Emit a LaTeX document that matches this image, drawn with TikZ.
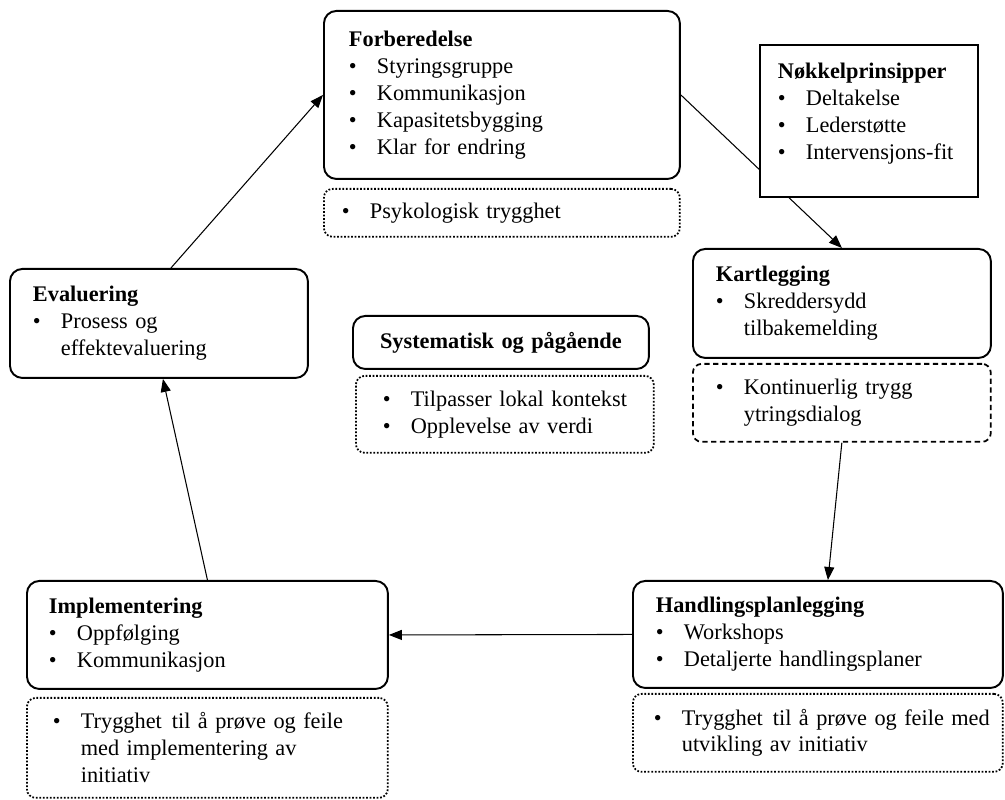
\documentclass[tikz,border=0pt]{standalone}
\usepackage{fontspec}
\setmainfont{Liberation Serif}
\usetikzlibrary{arrows.meta, calc, backgrounds}
\newcommand{\blt}[1]{\makebox[0.56cm][l]{\textbullet}\mbox{#1}}
\newcommand{\blgap}[1]{\hspace*{0.56cm}\mbox{#1}}

\begin{document}
\begin{tikzpicture}[
    x=0.02cm, y=-0.02cm,
    every node/.style={font=\fontsize{12.7}{15.3}\selectfont, text=black},
    stage/.style={
      rectangle, rounded corners=7pt, draw=black, line width=1.1pt,
      fill=white, align=left, anchor=north west, inner ysep=0pt
    },
    keybox/.style={
      rectangle, draw=black, line width=1.1pt,
      fill=white, align=left, anchor=north west, inner ysep=0pt
    },
    safety/.style={
      rectangle, rounded corners=5pt, draw=black, line width=1pt, densely dotted,
      fill=white, align=left, anchor=north west, inner ysep=0pt
    },
    dialog/.style={safety, dash pattern=on 3pt off 2pt},
    arr/.style={-{Triangle[length=7.4pt, width=5.7pt]}, draw=black, line width=0.6pt}
  ]
    \useasboundingbox (0,0) rectangle (1005,800);

    \node[stage, text width=6.12cm, inner xsep=0.5cm, minimum height=3.36cm] (prep) at (323,10)
      {\textbf{Forberedelse}\\ \blt{Styringsgruppe}\\ \blt{Kommunikasjon}\\ \blt{Kapasitetsbygging}\\ \blt{Klar for endring}};
    \node[safety, text width=6.4cm, inner xsep=0.36cm, minimum height=0.96cm] (psyk) at (323,188)
      {\blt{Psykologisk trygghet}};

    \node[keybox, text width=3.64cm, inner xsep=0.36cm, minimum height=3.04cm] (keys) at (759,44)
      {\textbf{Nøkkelprinsipper}\\ \blt{Deltakelse}\\ \blt{Lederstøtte}\\ \blt{Intervensjons-fit}\rule[-0.4cm]{0pt}{0pt}};

    \node[stage, text width=5.04cm, inner xsep=0.46cm, minimum height=2.18cm] (map) at (692,248)
      {\textbf{Kartlegging}\\ \blt{Skreddersydd}\\ \blgap{tilbakemelding}};
    \node[dialog, text width=5.04cm, inner xsep=0.46cm, minimum height=1.56cm] (dial) at (692,363)
      {\blt{Kontinuerlig trygg}\\ \blgap{ytringsdialog}};

    \node[stage, text width=6.48cm, inner xsep=0.46cm, minimum height=2.14cm] (plan) at (632,580)
      {\textbf{Handlingsplanlegging}\\ \blt{Workshops}\\ \blt{Detaljerte handlingsplaner}};
    \node[safety, text width=6.56cm, inner xsep=0.42cm, minimum height=1.56cm] (safe2) at (632,693)
      {\blt{Trygghet\hspace{0.45em}til å prøve og feile med}\\ \blgap{utvikling av initiativ}};

    \node[stage, text width=6.34cm, inner xsep=0.44cm, minimum height=2.16cm] (impl) at (26,580)
      {\textbf{Implementering}\\ \blt{Oppfølging}\\ \blt{Kommunikasjon}};
    \node[safety, text width=6.18cm, inner xsep=0.52cm, minimum height=2.0cm] (safe1) at (26,697)
      {\blt{Trygghet\hspace{0.45em}til å prøve og feile}\\ \blgap{med implementering av}\\ \blgap{initiativ}};

    \node[stage, text width=5.04cm, inner xsep=0.46cm, minimum height=2.18cm] (eval) at (9,268)
      {\textbf{Evaluering}\\ \blt{Prosess og}\\ \blgap{effektevaluering}};

    \node[stage, align=center, text width=5.92cm, inner xsep=0pt, minimum height=1.06cm] (sys) at (352,315)
      {\textbf{Systematisk og pågående}};
    \node[safety, text width=4.88cm, inner xsep=0.54cm, minimum height=1.54cm] (sysd) at (355,375)
      {\blt{Tilpasser lokal kontekst}\\ \blt{Opplevelse av verdi}};

    \begin{scope}[on background layer]
      \draw[arr] ($(eval.north)+(12,0)$) -- (prep.west);
      \draw[arr] (prep.east) -- (map.north);
      \draw[arr] (dial.south) -- ($(plan.north)+(10,0)$);
      \draw[arr] (plan.west) -- (impl.east);
      \draw[arr] (impl.north) -- ($(eval.south)+(4,0)$);
    \end{scope}
  \end{tikzpicture}
\end{document}
